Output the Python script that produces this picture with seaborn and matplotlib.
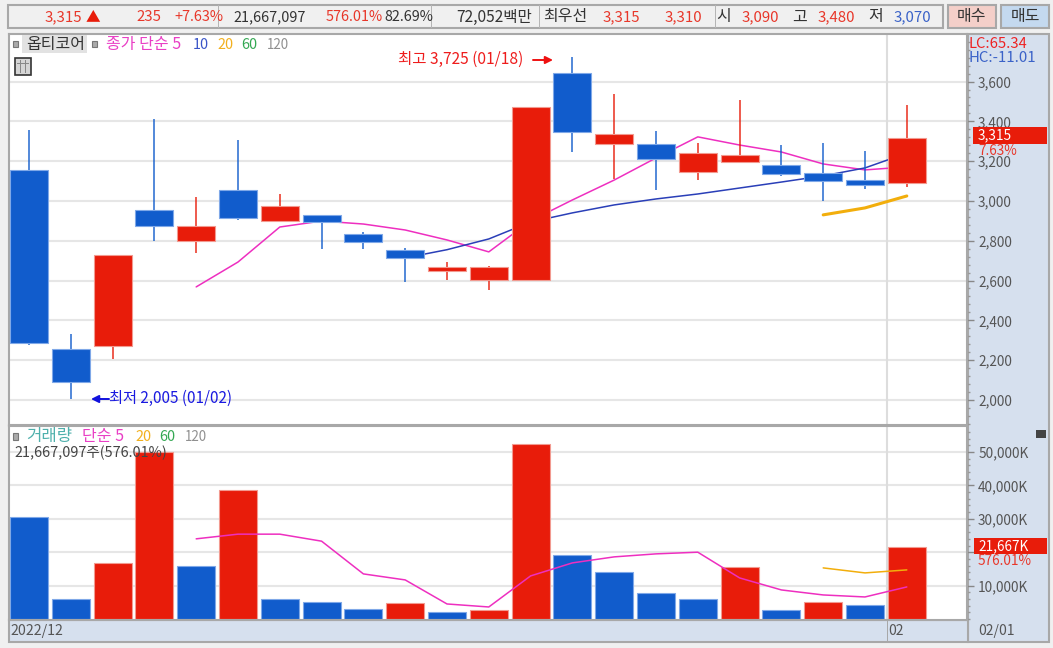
import matplotlib
matplotlib.use('Agg')
import matplotlib.pyplot as plt
import pandas as pd
import seaborn as sns
from matplotlib.patches import Rectangle

# 가격 (시가/종가 구분 없이 몸통 위/아래)
body_top = [3156, 2256, 2729, 2955, 2874, 3055, 2975, 2930, 2834, 2754, 2668,
            2668, 3472, 3643, 3337, 3286, 3241, 3231, 3181, 3141, 3105, 3315]
body_bot = [2286, 2090, 2271, 2874, 2799, 2915, 2899, 2894, 2794, 2714, 2648,
            2603, 2603, 3347, 3286, 3211, 3146, 3196, 3136, 3100, 3080, 3090]
wick_high = [3357, 2332, 2729, 3412, 3020, 3307, 3035, 2930, 2844, 2764, 2693,
             2673, 3472, 3725, 3538, 3352, 3291, 3508, 3281, 3291, 3251, 3480]
wick_low = [2276, 2005, 2206, 2799, 2739, 2905, 2899, 2759, 2759, 2593, 2603,
            2553, 2603, 3246, 3110, 3055, 3105, 3196, 3126, 3000, 3060, 3070]
updown = ['d', 'd', 'u', 'd', 'u', 'd', 'u', 'd', 'd', 'd', 'u',
          'u', 'u', 'd', 'u', 'd', 'u', 'u', 'd', 'd', 'd', 'u']

ma5 = [2568, 2693, 2869, 2899, 2884, 2854, 2804, 2744, 2900, 3005, 3105,
       3216, 3322, 3281, 3246, 3186, 3156, 3171]
ma10 = [2714, 2755, 2809, 2894, 2940, 2980, 3010, 3035, 3065, 3095, 3126, 3166, 3240]
ma20 = [2930, 2965, 3025]

# 거래량 (K) - 색은 전일 대비라서 캔들과 다름
volume = [30500, 6000, 16800, 50000, 15900, 38600, 6000, 5100, 3000, 4800, 2100,
          2700, 52400, 19200, 14100, 7800, 6000, 15600, 2700, 5100, 4200, 21667]
vol_updown = ['d', 'd', 'u', 'u', 'd', 'u', 'd', 'd', 'd', 'u', 'd',
              'u', 'u', 'd', 'd', 'd', 'd', 'u', 'd', 'u', 'd', 'u']
vol_ma5 = [24000, 25400, 25400, 23300, 13500, 11700, 4500, 3600, 12900, 16800,
           18600, 19500, 20000, 12300, 8700, 7200, 6600, 9600]
vol_ma20 = [15300, 13800, 14700]

price_ticks = [2000, 2200, 2400, 2600, 2800, 3000, 3200, 3400, 3600]
vol_ticks = [10000, 20000, 30000, 40000, 50000]
vol_labels = ['10,000K', '', '30,000K', '40,000K', '50,000K']

W, H = 1053, 648
RED = '#e81c0a'
BLUE = '#115ccc'

sns.set_style('white')
plt.rcParams['font.family'] = ['Noto Sans CJK KR', 'DejaVu Sans']
plt.rcParams['axes.unicode_minus'] = False

fig = plt.figure(figsize=(W / 100, H / 100), dpi=100, facecolor='#f0f0f0')


def box(x0, y0, x1, y1, color, edge='none', z=-1, lw=1.0):
    fig.add_artist(Rectangle((x0 / W, 1 - y1 / H), (x1 - x0) / W, (y1 - y0) / H,
                             transform=fig.transFigure, facecolor=color,
                             edgecolor=edge, linewidth=lw, zorder=z))


def txt(x, y, s, color='#333333', size=10.4, ha='left', z=8):
    fig.text(x / W, 1 - y / H, s, color=color, fontsize=size, ha=ha, va='center', zorder=z)


def pane(top, bottom):
    return fig.add_axes([9 / W, 1 - bottom / H, (967 - 9) / W, (bottom - top) / H])


def style_axis(a):
    a.set_xlim(-0.478, 22.44)
    a.set_xlabel('')
    a.set_ylabel('')
    a.set_xticks([])
    a.yaxis.tick_right()
    a.tick_params(axis='y', which='major', length=5, width=1, color='#888888',
                  labelcolor='#555555', labelsize=9.8, pad=3, right=True)
    a.tick_params(axis='y', which='minor', length=2.5, width=1, color='#999999', right=True)
    for lab in a.get_yticklabels():
        lab.set_verticalalignment('center_baseline')
    for s in a.spines.values():
        s.set_color('#a8a8a8')
        s.set_linewidth(1.5)


df = pd.DataFrame({'i': range(22), 'top': body_top, 'bot': body_bot, 'low': wick_low,
                   'high': wick_high, 'vol': volume, 'ud': updown, 'vud': vol_updown})
df['h'] = df['top'] - df['bot']
fills = {'u': RED, 'd': BLUE}
edges = {'u': '#f29a90', 'd': '#7fa8e8'}

# 우측 눈금 영역, 하단 시간축 배경
box(968, 34, 1049, 642, '#d6e0ee', edge='#a8a8a8', lw=1.5)
box(9, 620, 968, 642, '#d6e0ee', edge='#a8a8a8', lw=1.5)

# ---------- 가격 ----------
ax = pane(34, 425)
for t in price_ticks:
    ax.axhline(t, color='#e6e6e6', lw=1.5, zorder=0)
ax.axvline(20.53, color='#dddddd', lw=1.5, zorder=0)

sns.lineplot(x=list(range(4, 22)), y=ma5, color='#ee2fc0', lw=1.1, ax=ax, zorder=1)
sns.lineplot(x=list(range(9, 22)), y=ma10, color='#2a3fb8', lw=1.1, ax=ax, zorder=1)
sns.lineplot(x=list(range(19, 22)), y=ma20, color='#f2ae0c', lw=2.2, ax=ax, zorder=1)

for ud in ['u', 'd']:
    part = df[df['ud'] == ud]
    ax.vlines(part['i'], part['low'], part['high'], color=fills[ud], lw=1.2, zorder=2, alpha=0.85)
    sns.barplot(x=part['i'].values, y=part['h'].values, bottom=part['bot'].values, native_scale=True,
                color=fills[ud], saturation=1, width=0.91, ax=ax, zorder=3,
                edgecolor=edges[ud], linewidth=0.8)
ax.set_ylim(1874, 3839)
ax.set_yticks(price_ticks)
ax.set_yticklabels([f'{t:,}' for t in price_ticks])
ax.set_yticks(range(1880, 3840, 40), minor=True)
style_axis(ax)

# ---------- 거래량 ----------
ax2 = pane(426, 620)
for t in vol_ticks:
    ax2.axhline(t, color='#e6e6e6', lw=1.5, zorder=0)
ax2.axvline(20.53, color='#dddddd', lw=1.5, zorder=0)
for ud in ['u', 'd']:
    part = df[df['vud'] == ud]
    sns.barplot(x=part['i'].values, y=part['vol'].values, native_scale=True, color=fills[ud],
                saturation=1, width=0.91, ax=ax2, zorder=1, edgecolor=edges[ud], linewidth=0.8)
sns.lineplot(x=list(range(4, 22)), y=vol_ma5, color='#ee2fc0', lw=1.1, ax=ax2, zorder=3)
sns.lineplot(x=list(range(19, 22)), y=vol_ma20, color='#f2ae0c', lw=1.1, ax=ax2, zorder=3)
ax2.set_ylim(-300, 57784)
ax2.set_yticks(vol_ticks)
ax2.set_yticklabels(vol_labels)
ax2.set_yticks(range(0, 58000, 2000), minor=True)
style_axis(ax2)

# ---------- 상단 정보줄 ----------
box(8, 5, 943, 28, '#f0f0f0', edge='#a8a8a8', z=5, lw=1.5)
for x in [218, 431, 539, 715]:
    box(x, 5, x + 1, 28, '#b5b5b5', z=6)
box(948, 5, 996, 28, '#f4cfc9', edge='#a8a8a8', z=5, lw=1.5)
box(1001, 5, 1049, 28, '#c4d9ef', edge='#a8a8a8', z=5, lw=1.5)

txt(45, 17, '3,315', '#e8372a', size=10.8)
txt(86, 17, '▲', RED, size=10.5)
txt(136, 17, '235', '#e8372a', size=10.8)
txt(174, 17, '+7.63%', '#e8372a')
txt(233, 17, '21,667,097')
txt(326, 17, '576.01%', '#e8372a')
txt(384, 17, '82.69%')
txt(456, 17, '72,052백만', size=11.2)
txt(543, 17, '최우선', size=11.5)
txt(603, 17, '3,315', '#e8372a', size=10.8)
txt(665, 17, '3,310', '#e8372a', size=10.8)
txt(716, 17, '시', size=11.5)
txt(742, 17, '3,090', '#e8372a', size=10.8)
txt(792, 17, '고', size=11.5)
txt(818, 17, '3,480', '#e8372a', size=10.8)
txt(868, 17, '저', size=11.5)
txt(894, 17, '3,070', '#3a62c8', size=10.8)
txt(972, 17, '매수', ha='center', size=11.5)
txt(1025, 17, '매도', ha='center', size=11.5)

# ---------- 범례 / 주석 ----------
box(13, 41, 18, 47, '#aaaaaa', edge='#777777', z=6, lw=0.8)
box(22, 35, 87, 53, '#e2e2e2', z=6)
box(92, 41, 97, 47, '#aaaaaa', edge='#777777', z=6, lw=0.8)
txt(26, 45, '옵티코어', size=11.5)
txt(106, 45, '종가 단순 5', '#e93fc5', size=11.5)
txt(193, 45, '10', '#3a55c8')
txt(217, 45, '20', '#f2b01e')
txt(241, 45, '60', '#34a853')
txt(267, 45, '120', '#909090', size=9.6)
box(15, 58, 31, 75, '#d5d5d5', edge='#333333', z=6, lw=1.2)
for x in [20, 25]:
    box(x, 60, x + 1, 73, '#888888', z=7)
box(17, 63, 29, 64, '#888888', z=7)

txt(398, 59, '최고 3,725 (01/18)', '#ee1c1c', size=11.2)
ax.annotate('', xy=(553 / W, 1 - 60 / H), xytext=(533 / W, 1 - 60 / H), xycoords='figure fraction',
            arrowprops=dict(arrowstyle='-|>', color='#ee1111', lw=1.4, mutation_scale=11,
                            shrinkA=0, shrinkB=0))
ax.annotate('', xy=(91 / W, 1 - 399 / H), xytext=(109 / W, 1 - 399 / H), xycoords='figure fraction',
            arrowprops=dict(arrowstyle='-|>', color='#1111dd', lw=1.4, mutation_scale=11,
                            shrinkA=0, shrinkB=0))
txt(109, 398, '최저 2,005 (01/02)', '#1a1ae0', size=11)

box(13, 433, 18, 440, '#aaaaaa', edge='#777777', z=6, lw=0.8)
txt(26, 437, '거래량', '#4fb0ac', size=12)
txt(82, 437, '단순 5', '#e93fc5', size=11.5)
txt(135, 437, '20', '#f2b01e')
txt(159, 437, '60', '#34a853')
txt(185, 437, '120', '#909090', size=9.6)
txt(14, 453, '21,667,097주(576.01%)', '#444444', size=10.4)
box(1036, 430, 1046, 438, '#444444', z=6)

txt(969, 44, 'LC:65.34', '#ee2222', size=10.6)
txt(969, 58, 'HC:-11.01', '#3a62c8', size=10.8)

# 현재가 / 거래량 표시
box(973, 127, 1047, 144, RED, z=6)
txt(978, 135, '3,315', 'white', size=9.8)
txt(978, 151, '7.63%', '#e8372a', size=9.8)
box(974, 538, 1047, 554, RED, z=6)
txt(978, 546, '21,667K', 'white', size=9.8)
txt(978, 561, '576.01%', '#e8372a', size=9.8)

# 시간축
txt(10, 631, '2022/12', '#555555', size=10.2)
txt(888, 631, '02', '#555555', size=10)
txt(978, 631, '02/01', '#555555', size=10)
box(887, 620, 888, 642, '#a8a8a8', z=6)

fig.savefig('out.png', dpi=100, facecolor=fig.get_facecolor())
